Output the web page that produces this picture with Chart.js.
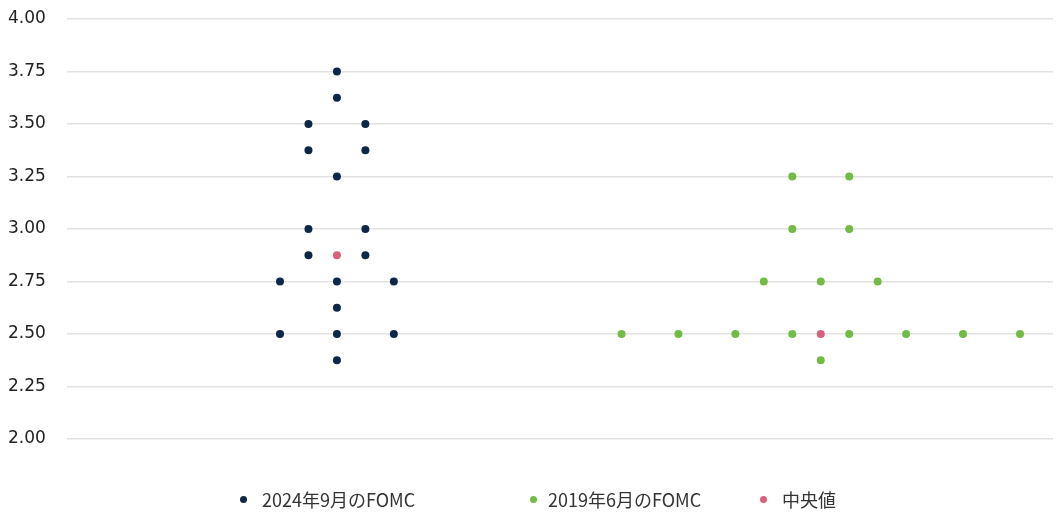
<!DOCTYPE html>
<html>
<head>
<meta charset="utf-8">
<script src="https://cdn.jsdelivr.net/npm/chart.js@4"></script>
<style>
  html, body { margin: 0; padding: 0; background: #fff; }
  #wrap { position: relative; width: 1057px; height: 513px; }
  #legend { position: absolute; top: 486px; left: 0; width: 1057px; height: 26px;
            font-family: "Noto Sans CJK JP", sans-serif; font-size: 18px; color: #333; }
  #legend span { position: absolute; top: 0; white-space: nowrap; line-height: 26px; }
  #legend i { position: absolute; top: 10px; width: 7px; height: 7px; border-radius: 50%; }
</style>
</head>
<body>
<div id="wrap">
  <canvas id="dots" width="1057" height="513"></canvas>
  <div id="legend"></div>
</div>
<script>
// Series labels
const seriesNames = ['2024年9月のFOMC', '2019年6月のFOMC', '中央値'];
const seriesColors = ['#0c2747', '#72bb45', '#d9607c'];

// 2024 Sep dots (x = column position, y = rate)
const sep2024X = [0, 0, 1, 1, 1, 1, 2, 2, 2, 2, 2, 2, 2, 3, 3, 3, 3, 4, 4];
const sep2024Y = [2.75, 2.50, 3.50, 3.375, 3.00, 2.875, 3.75, 3.625, 3.25, 2.75, 2.625, 2.50, 2.375, 3.50, 3.375, 3.00, 2.875, 2.75, 2.50];

// 2019 Jun dots
const jun2019X = [12, 14, 16, 17, 18, 18, 18, 19, 19, 20, 20, 20, 21, 22, 24, 26];
const jun2019Y = [2.50, 2.50, 2.50, 2.75, 3.25, 3.00, 2.50, 2.75, 2.375, 3.25, 3.00, 2.50, 2.75, 2.50, 2.50, 2.50];

// Medians
const medianX = [2, 19];
const medianY = [2.875, 2.50];

// Y ticks
const yTicks = [2.00, 2.25, 2.50, 2.75, 3.00, 3.25, 3.50, 3.75, 4.00];

function toPoints(xs, ys) {
    return xs.map((x, i) => ({ x: x, y: ys[i] }));
}

const dotStyle = (color) => ({
    backgroundColor: color,
    borderColor: color,
    pointRadius: 4,
    pointHoverRadius: 4,
    borderWidth: 0
});

new Chart(document.getElementById('dots'), {
    type: 'scatter',
    data: {
        datasets: [
            { label: seriesNames[0], data: toPoints(sep2024X, sep2024Y), ...dotStyle(seriesColors[0]) },
            { label: seriesNames[1], data: toPoints(jun2019X, jun2019Y), ...dotStyle(seriesColors[1]) },
            { label: seriesNames[2], data: toPoints(medianX, medianY), ...dotStyle(seriesColors[2]) }
        ]
    },
    options: {
        responsive: false,
        animation: false,
        layout: { padding: { left: 8, right: 0, top: 19, bottom: 74 } },
        plugins: {
            legend: { display: false },
            tooltip: { enabled: false }
        },
        scales: {
            x: {
                type: 'linear',
                display: false,
                min: -7.484,
                max: 27.16
            },
            y: {
                min: 2,
                max: 4,
                afterBuildTicks: (axis) => { axis.ticks = yTicks.map(v => ({ value: v })); },
                afterFit: (axis) => {
                    axis.width = 59;
                    axis.paddingTop = 0;
                    axis.paddingBottom = 0;
                },
                border: { display: false },
                grid: { color: '#e2e2e2', lineWidth: 1.6, drawTicks: false },
                ticks: {
                    crossAlign: 'far',
                    padding: 20,
                    color: '#222',
                    font: { family: 'DejaVu Sans', size: 17 },
                    callback: (v) => Number(v).toFixed(2)
                }
            }
        }
    }
});

// Legend (items are not evenly spaced in the original)
const legendDotX = [243, 533, 763];
const legendTextX = [262, 548, 782];
const legend = document.getElementById('legend');
seriesNames.forEach((name, i) => {
    const dot = document.createElement('i');
    dot.style.background = seriesColors[i];
    dot.style.left = (legendDotX[i] - 3.5) + 'px';
    legend.appendChild(dot);
    const text = document.createElement('span');
    text.style.left = legendTextX[i] + 'px';
    text.textContent = name;
    legend.appendChild(text);
});
</script>
</body>
</html>
